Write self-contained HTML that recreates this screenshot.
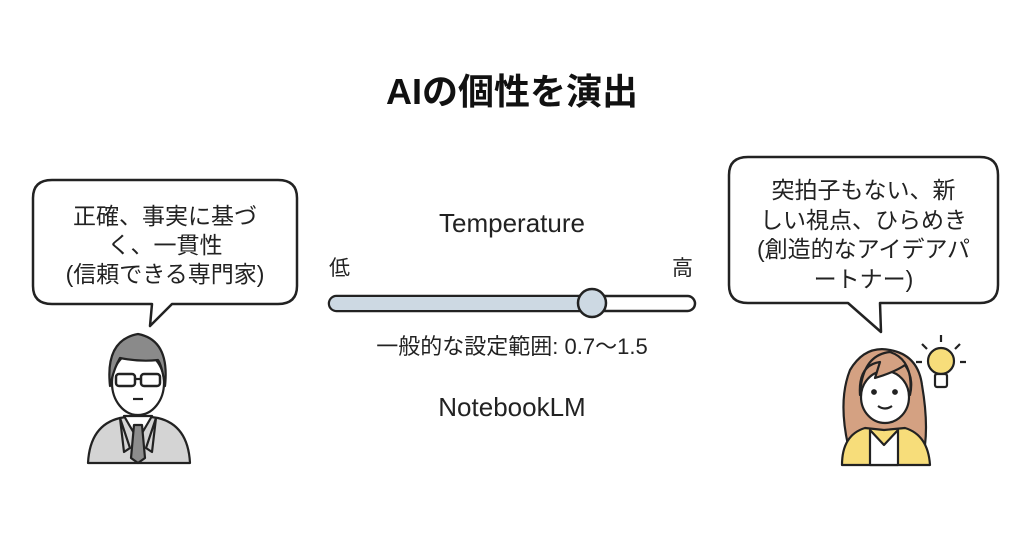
<!DOCTYPE html>
<html><head><meta charset="utf-8"><style>
html,body{margin:0;padding:0;background:#fff;}
body{width:1024px;height:559px;overflow:hidden;position:relative;font-family:"Liberation Sans","Noto Sans CJK JP",sans-serif;color:#222;}
.t{position:absolute;white-space:nowrap;text-align:center;}
</style></head><body>
<svg width="1024" height="559" style="position:absolute;left:0;top:0">
<g fill="#fff" stroke="#222" stroke-width="2.5" stroke-linejoin="round">
<path d="M52,180 H278 Q297,180 297,198 V286 Q297,304 278,304 H172 L150,326 L152,304 H52 Q33,304 33,286 V198 Q33,180 52,180 Z"/>
<path d="M748,157 H980 Q998,157 998,175 V285 Q998,303 980,303 H880 L881,332 L848,303 H748 Q729,303 729,285 V175 Q729,157 748,157 Z"/>
</g>
<rect x="329" y="296" width="366" height="15" rx="7.5" fill="#fff" stroke="#222" stroke-width="2.5"/>
<rect x="330" y="297" width="262" height="13" rx="6.5" fill="#cdd9e3"/>
<circle cx="592" cy="303" r="14" fill="#cdd9e3" stroke="#222" stroke-width="2.5"/>
<g stroke="#222" stroke-width="2.2" stroke-linejoin="round">
<path d="M88,463 Q90,425 120,418 L138,415 L158,418 Q188,425 190,463 Z" fill="#d4d4d4"/>
<path d="M124,416 L138,440 L152,416 Z" fill="#fff"/>
<path d="M134,425 L142,425 L145,458 L138,463 L131,458 Z" fill="#8d8d8d"/>
<path d="M120,418 L130,448 L124,452 Z M156,418 L146,448 L152,452 Z" fill="#d4d4d4"/>
<ellipse cx="138" cy="383" rx="26" ry="32" fill="#fff"/>
<path d="M110,386 Q105,340 138,334 Q170,340 165,386 Q162,365 158,360 Q140,362 120,358 Q114,368 110,386 Z" fill="#8a8a8a"/>
<rect x="116" y="374" width="19" height="12" rx="3" fill="none" stroke-width="2.5"/>
<rect x="141" y="374" width="19" height="12" rx="3" fill="none" stroke-width="2.5"/>
<path d="M135,379 H141" fill="none"/>
<path d="M133,399 H143" fill="none"/>
</g>
<g stroke="#222" stroke-width="2.2" stroke-linejoin="round">
<path d="M848,445 Q838,400 850,370 Q865,345 890,350 Q918,355 922,385 Q928,420 925,445 Z" fill="#d4a182"/>
<path d="M842,465 Q842,435 865,428 L884,430 L905,428 Q928,435 930,465 Z" fill="#f7dd7a"/>
<path d="M870,430 L884,445 L898,430 L898,465 L870,465 Z" fill="#fff"/>
<ellipse cx="885" cy="397" rx="24" ry="26" fill="#fff"/>
<path d="M860,395 Q858,365 880,362 L875,378 Q895,372 905,365 Q914,378 910,395 Q914,360 890,352 Q862,355 860,395 Z" fill="#d4a182"/>
<circle cx="874" cy="392" r="1.8" fill="#222"/><circle cx="895" cy="392" r="1.8" fill="#222"/>
<path d="M878,406 Q885,411 892,406" fill="none"/>
<circle cx="941" cy="361" r="13" fill="#f7dd7a"/>
<rect x="935" y="374" width="12" height="13" rx="2" fill="#fff"/>
<path d="M941,335 V342 M922,344 L927,349 M960,344 L955,349 M916,362 H922 M960,362 H966" fill="none"/>
</g>
</svg>
<div class="t" style="left:312px;top:63px;width:400px;font-size:36px;font-weight:bold;color:#111;">AIの個性を演出</div>
<div class="t" style="left:33px;top:202px;width:264px;font-size:23px;line-height:29px;">正確、事実に基づ<br>く、一貫性<br>(信頼できる専門家)</div>
<div class="t" style="left:729px;top:176px;width:269px;font-size:23px;line-height:29.5px;">突拍子もない、新<br>しい視点、ひらめき<br>(創造的なアイデアパ<br>ートナー)</div>
<div class="t" style="left:362px;top:208px;width:300px;font-size:26px;">Temperature</div>
<div class="t" style="left:329px;top:252px;font-size:21px;">低</div>
<div class="t" style="left:672px;top:252px;font-size:21px;">高</div>
<div class="t" style="left:312px;top:329px;width:400px;font-size:22px;">一般的な設定範囲: 0.7〜1.5</div>
<div class="t" style="left:362px;top:392px;width:300px;font-size:26px;">NotebookLM</div>
</body></html>
